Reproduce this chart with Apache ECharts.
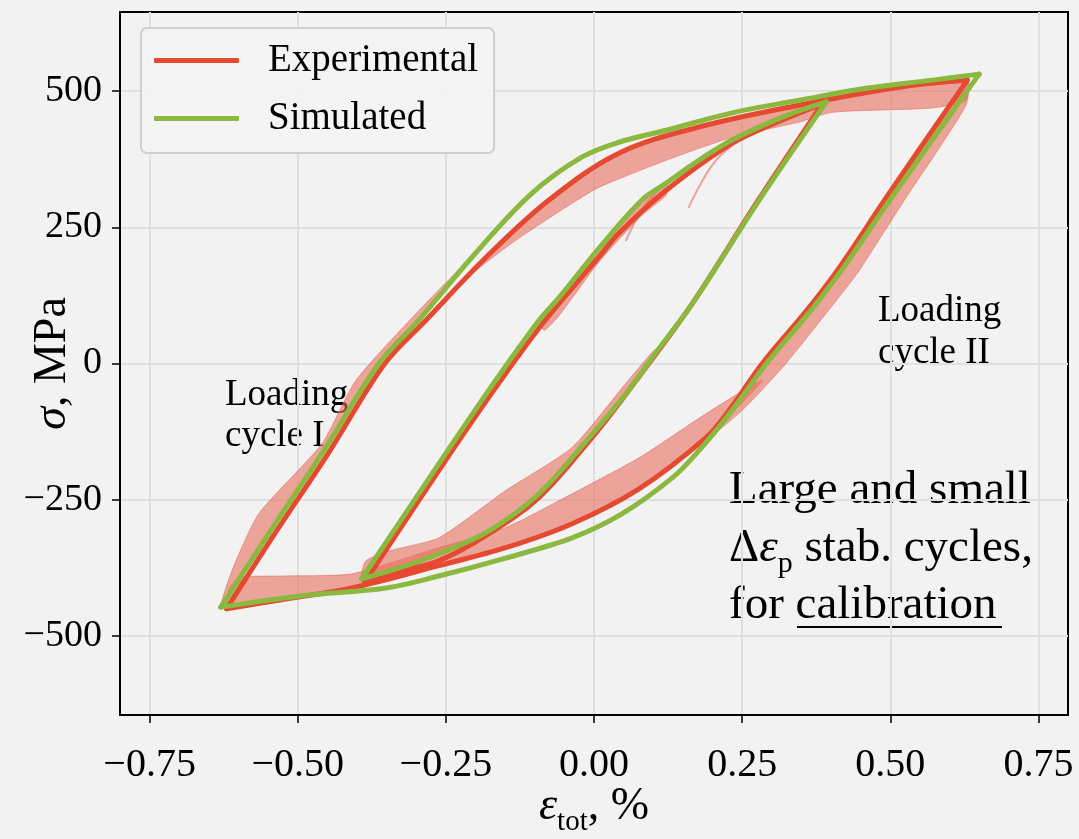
<!DOCTYPE html>
<html>
<head>
<meta charset="utf-8">
<script src="https://cdn.jsdelivr.net/npm/echarts@6/dist/echarts.min.js"></script>
<style>
html,body{margin:0;padding:0;background:#f2f2f2;}
#c{width:1079px;height:839px;}
</style>
</head>
<body>
<div id="c"></div>
<script>
// ---- tick labels ----
const xTicks = [-0.75, -0.5, -0.25, 0, 0.25, 0.5, 0.75];
const yTicks = [-500, -250, 0, 250, 500];

// ---- Simulated (green) : large loop ----
const simLargeLoading = [[-0.630,-447],[-0.549,-312],[-0.456,-160],[-0.363,0],[-0.296,79],[-0.206,195],[-0.105,312],[-0.020,379],[0.042,406],[0.122,428],[0.233,460],[0.346,483],[0.459,505],[0.571,520],[0.650,531]];
const simLargeUnloading = [[0.650,531],[0.507,312],[0.421,176],[0.365,96],[0.291,0],[0.233,-86],[0.177,-160],[0.132,-210],[0.047,-276],[-0.037,-320],[-0.149,-357],[-0.262,-390],[-0.351,-412],[-0.493,-426],[-0.630,-447]];
// ---- Simulated (green) : small loop ----
const simSmallLoading = [[-0.392,-395],[-0.247,-160],[-0.166,-31],[-0.093,79],[-0.059,121],[0.008,211],[0.081,300],[0.122,331],[0.177,373],[0.233,410],[0.318,452],[0.392,480]];
const simSmallUnloading = [[0.392,480],[0.279,300],[0.166,110],[0.110,28],[0.054,-55],[-0.008,-136],[-0.093,-239],[-0.177,-307],[-0.262,-349],[-0.329,-375],[-0.392,-395]];

// ---- Experimental (red) : stabilised large loop ----
const expLargeLoading = [[-0.620,-450],[-0.541,-316],[-0.448,-164],[-0.353,0],[-0.284,79],[-0.182,195],[-0.076,300],[0.042,386],[0.177,434],[0.346,474],[0.515,507],[0.630,520]];
const expLargeUnloading = [[0.630,520],[0.498,312],[0.414,176],[0.358,96],[0.284,0],[0.228,-86],[0.189,-136],[0.076,-230],[-0.037,-294],[-0.149,-338],[-0.262,-371],[-0.409,-412],[-0.520,-432],[-0.620,-450]];
// ---- Experimental (red) : stabilised small loop ----
const expSmallLoading = [[-0.387,-401],[-0.242,-164],[-0.160,-35],[-0.084,77],[0.008,195],[0.042,239],[0.122,318],[0.233,404],[0.318,447],[0.385,476]];
const expSmallUnloading = [[0.385,476],[0.275,296],[0.164,107],[0.052,-59],[-0.008,-142],[-0.093,-246],[-0.177,-312],[-0.262,-362],[-0.329,-382],[-0.387,-401]];

// ---- Experimental scatter of all cycles (envelopes of the pale band) ----
const bandLargeUpper = [[-0.257,116],[-0.182,195],[-0.076,300],[0.042,386],[0.177,434],[0.346,474],[0.515,507],[0.630,520],[0.628,483],[0.571,469],[0.402,461],[0.346,443],[0.233,415],[0.122,373],[0.008,323],[-0.047,287],[-0.132,226],[-0.206,165]];
const bandLargeRight = [[0.630,520],[0.498,312],[0.414,176],[0.358,96],[0.284,0],[0.228,-86],[0.177,-151],[0.250,-86],[0.324,0],[0.436,153],[0.451,176],[0.524,300],[0.628,474]];
const bandLargeLower = [[0.284,-31],[0.189,-136],[0.076,-230],[-0.037,-294],[-0.149,-338],[-0.262,-371],[-0.409,-412],[-0.520,-432],[-0.620,-450],[-0.617,-417],[-0.600,-393],[-0.520,-390],[-0.409,-386],[-0.262,-338],[-0.149,-301],[-0.037,-239],[0.076,-173],[0.189,-92]];
const bandLargeLeft = [[-0.630,-447],[-0.549,-312],[-0.456,-160],[-0.363,0],[-0.296,79],[-0.206,195],[-0.279,116],[-0.402,-31],[-0.459,-147],[-0.566,-276],[-0.611,-380]];
const bandSmallLower = [[0.110,28],[0.054,-55],[-0.008,-136],[-0.093,-239],[-0.177,-307],[-0.262,-349],[-0.329,-375],[-0.392,-395],[-0.385,-362],[-0.346,-344],[-0.262,-320],[-0.149,-233],[-0.037,-154],[0.051,-40],[0.101,24]];
const bandSmallUpper = [[-0.093,79],[-0.059,121],[0.008,211],[0.081,300],[0.122,331],[0.122,309],[0.081,272],[0.008,186],[-0.059,88],[-0.084,61]];
const partialTrace1 = [[0.160,287],[0.206,373],[0.279,437]];
const partialTrace2 = [[0.054,226],[0.093,300],[0.160,364]];

const RED = '#e5492f';
const GREEN = '#8bb83f';
const PALE = 'rgba(231,110,95,0.6)';
const SERIF = '"Liberation Serif", "Times New Roman", serif';

function band(pts) {
  return {
    type: 'custom', coordinateSystem: 'cartesian2d', silent: true, z: 1,
    data: [pts[0]],
    renderItem: function (params, api) {
      return { type: 'polygon', shape: { points: pts.map(p => api.coord(p)), smooth: 0.2 }, style: { fill: PALE, stroke: PALE, lineWidth: 1 } };
    }
  };
}
function line(name, data, color, width, z) {
  return {
    name: name, type: 'line', data: data, showSymbol: false, symbol: 'none', smooth: 0.35,
    color: color, lineStyle: { color: color, width: width, cap: 'round', join: 'round' }, z: z, silent: true, animation: false
  };
}
function minusFmt(v, d) {
  const s = d == null ? String(Math.abs(v)) : Math.abs(v).toFixed(d);
  return (v < 0 ? '\u2212' : '') + s;
}

const chart = echarts.init(document.getElementById('c'), null, { renderer: 'canvas' });
chart.setOption({
  animation: false,
  backgroundColor: '#f2f2f2',
  grid: { left: 120, top: 12, right: 11, bottom: 124, containLabel: false, outerBoundsMode: 'none',
          show: true, backgroundColor: '#f2f2f2', borderColor: '#000', borderWidth: 2 },
  xAxis: {
    type: 'value', min: -0.8, max: 0.8,
    axisLine: { show: true, onZero: false, lineStyle: { color: '#000', width: 2 } },
    axisTick: { show: true, customValues: xTicks, length: 8, lineStyle: { color: '#000', width: 1.5 } },
    axisLabel: { customValues: xTicks, margin: 30, fontFamily: SERIF, fontSize: 40, color: '#000', formatter: v => minusFmt(v, 2) },
    splitLine: { show: true, lineStyle: { color: '#e0e0e0', width: 2 } },
    name: '{e|\u03b5}{s|tot}{n|, %}', nameLocation: 'middle', nameGap: 62, nameMoveOverlap: false,
    nameTextStyle: { rich: {
      e: { fontFamily: SERIF, fontStyle: 'italic', fontSize: 46, lineHeight: 60, color: '#000' },
      s: { fontFamily: SERIF, fontSize: 29, lineHeight: 20, verticalAlign: 'bottom', color: '#000' },
      n: { fontFamily: SERIF, fontSize: 46, lineHeight: 60, color: '#000' } } }
  },
  yAxis: {
    type: 'value', min: -645, max: 645,
    axisLine: { show: true, onZero: false, lineStyle: { color: '#000', width: 2 } },
    axisTick: { show: true, customValues: yTicks, length: 8, lineStyle: { color: '#000', width: 1.5 } },
    axisLabel: { customValues: yTicks, margin: 18, fontFamily: SERIF, fontSize: 38, color: '#000', formatter: v => minusFmt(v) },
    splitLine: { show: true, lineStyle: { color: '#e0e0e0', width: 2 } },
    name: '{g|\u03c3}{n|, MPa}', nameLocation: 'middle', nameGap: 44, nameRotate: 90, nameMoveOverlap: false,
    nameTextStyle: { rich: {
      g: { fontFamily: SERIF, fontStyle: 'italic', fontSize: 46, color: '#000' },
      n: { fontFamily: SERIF, fontSize: 46, color: '#000' } } }
  },
  legend: {
    data: ['Experimental', 'Simulated'], orient: 'vertical', left: 141, top: 28,
    padding: [11, 16, 13, 13], itemGap: 15, itemWidth: 85, itemHeight: 5, icon: 'roundRect',
    backgroundColor: 'rgba(245,245,245,0.85)', borderColor: '#cfcfcf', borderWidth: 2, borderRadius: 6,
    textStyle: { fontFamily: SERIF, fontSize: 39, color: '#000', lineHeight: 43, padding: [0, 0, 0, 24] },
    selectedMode: false
  },
  series: [
    band(bandLargeUpper), band(bandLargeRight), band(bandLargeLower), band(bandLargeLeft),
    band(bandSmallLower), band(bandSmallUpper),
    line(null, partialTrace1, 'rgba(231,110,95,0.6)', 2, 2),
    line(null, partialTrace2, 'rgba(231,110,95,0.6)', 2, 2),
    line('Experimental', expLargeLoading, RED, 5, 3),
    line('Experimental', expLargeUnloading, RED, 5, 3),
    line('Experimental', expSmallLoading, RED, 5, 3),
    line('Experimental', expSmallUnloading, RED, 5, 3),
    line('Simulated', simLargeLoading, GREEN, 5, 4),
    line('Simulated', simLargeUnloading, GREEN, 5, 4),
    line('Simulated', simSmallLoading, GREEN, 5, 4),
    line('Simulated', simSmallUnloading, GREEN, 5, 4)
  ],
  graphic: [
    { type: 'text', x: 225, y: 395, style: { text: 'Loading', font: '37px ' + SERIF, fill: '#000', verticalAlign: 'middle' } },
    { type: 'text', x: 225, y: 436, style: { text: 'cycle I', font: '37px ' + SERIF, fill: '#000', verticalAlign: 'middle' } },
    { type: 'text', x: 878, y: 311, style: { text: 'Loading', font: '37px ' + SERIF, fill: '#000', verticalAlign: 'middle' } },
    { type: 'text', x: 878, y: 353, style: { text: 'cycle II', font: '37px ' + SERIF, fill: '#000', verticalAlign: 'middle' } },
    { type: 'text', x: 729, y: 491, style: { text: 'Large and small', font: '47px ' + SERIF, fill: '#000', verticalAlign: 'middle' } },
    { type: 'text', x: 729, y: 549, style: {
        text: '{a|\u0394}{e|\u03b5}{s|p}{a| stab. cycles,}', verticalAlign: 'middle',
        rich: {
          a: { font: '47px ' + SERIF, fill: '#000', lineHeight: 60 },
          e: { font: 'italic 47px ' + SERIF, fill: '#000', lineHeight: 60 },
          s: { font: '30px ' + SERIF, fill: '#000', lineHeight: 20, verticalAlign: 'bottom' }
        } } },
    { type: 'text', x: 729, y: 606, style: { text: 'for calibration', font: '47px ' + SERIF, fill: '#000', verticalAlign: 'middle' } },
    { type: 'line', shape: { x1: 797, y1: 627, x2: 1002, y2: 627 }, style: { stroke: '#000', lineWidth: 2 } }
  ]
});
</script>
</body>
</html>
